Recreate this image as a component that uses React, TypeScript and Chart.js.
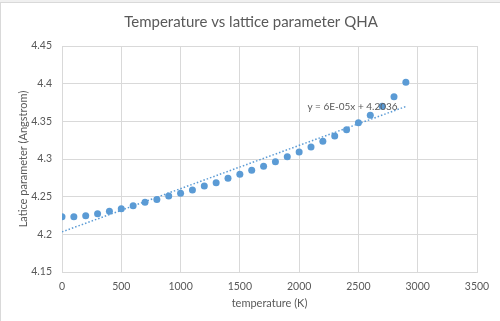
import { useEffect, useRef } from "react";
import { Chart, registerables } from "chart.js";

Chart.register(...registerables);

const chartTitle = "Temperature vs lattice parameter QHA";
const xAxisTitle = "temperature (K)";
const yAxisTitle = "Latice parameter (Angstrom)";
const trendLabel = "y = 6E-05x + 4.2036";

const temperatures = [
  0, 100, 200, 300, 400, 500, 600, 700, 800, 900, 1000, 1100, 1200, 1300, 1400,
  1500, 1600, 1700, 1800, 1900, 2000, 2100, 2200, 2300, 2400, 2500, 2600, 2700,
  2800, 2900,
];
const latticeParams = [
  4.2234, 4.2234, 4.2247, 4.2274, 4.2305, 4.234, 4.238, 4.2425, 4.2464, 4.2508,
  4.2544, 4.2588, 4.264, 4.2685, 4.2743, 4.2797, 4.2852, 4.2903, 4.2964, 4.303,
  4.3093, 4.316, 4.3235, 4.3305, 4.3389, 4.3482, 4.358, 4.37, 4.3827, 4.4018,
];
const xTicks = [0, 500, 1000, 1500, 2000, 2500, 3000, 3500];
const yTicks = [4.15, 4.2, 4.25, 4.3, 4.35, 4.4, 4.45];

const FONT = "Lato";
const TEXT = "#595959";
const BLUE = "#5b9bd5";
const GRID = "#d9d9d9";

function linearFit(xs: number[], ys: number[]) {
  const n = xs.length;
  const mx = xs.reduce((a, b) => a + b, 0) / n;
  const my = ys.reduce((a, b) => a + b, 0) / n;
  let sxy = 0;
  let sxx = 0;
  for (let i = 0; i < n; i++) {
    sxy += (xs[i] - mx) * (ys[i] - my);
    sxx += (xs[i] - mx) * (xs[i] - mx);
  }
  const slope = sxy / sxx;
  return { slope, intercept: my - slope * mx };
}

export default function App() {
  const ref = useRef<HTMLCanvasElement | null>(null);

  useEffect(() => {
    if (!ref.current) return;
    const fit = linearFit(temperatures, latticeParams);
    const tFirst = temperatures[0];
    const tLast = temperatures[temperatures.length - 1];

    const framePlugin = {
      id: "frame",
      beforeDraw(chart: any) {
        const { ctx } = chart;
        ctx.save();
        ctx.fillStyle = "#f0f0f0";
        ctx.fillRect(0, 0, 500, 2);
        ctx.strokeStyle = "#d9d9d9";
        ctx.lineWidth = 1;
        ctx.beginPath();
        ctx.moveTo(0, 2.5);
        ctx.lineTo(500, 2.5);
        ctx.moveTo(0.5, 2);
        ctx.lineTo(0.5, 321);
        ctx.stroke();
        ctx.restore();
      },
    };

    const textPlugin = {
      id: "texts",
      afterDraw(chart: any) {
        const { ctx, chartArea, scales } = chart;
        ctx.save();
        ctx.fillStyle = TEXT;
        ctx.textAlign = "center";
        ctx.textBaseline = "middle";
        ctx.font = `15px ${FONT}`;
        ctx.fillText(chartTitle, 251, 22);
        ctx.font = `11px ${FONT}`;
        ctx.fillText(xAxisTitle, (chartArea.left + chartArea.right) / 2, 303);
        ctx.save();
        ctx.translate(23, (chartArea.top + chartArea.bottom) / 2);
        ctx.rotate(-Math.PI / 2);
        ctx.fillText(yAxisTitle, 0, 0);
        ctx.restore();
        ctx.font = `10px ${FONT}`;
        const lx = scales.x.getPixelForValue(2450);
        const ly = scales.y.getPixelForValue(4.37);
        ctx.fillText(trendLabel, lx, ly + 1);
        ctx.restore();
      },
    };

    const chart = new Chart(ref.current, {
      type: "scatter",
      data: {
        datasets: [
          {
            label: "data",
            data: temperatures.map((t, i) => ({ x: t, y: latticeParams[i] })),
            backgroundColor: BLUE,
            borderColor: BLUE,
            pointRadius: 3.5,
            pointBorderWidth: 0,
          },
          {
            label: "trend",
            type: "line",
            data: [
              { x: tFirst, y: fit.intercept + fit.slope * tFirst },
              { x: tLast, y: fit.intercept + fit.slope * tLast },
            ],
            borderColor: BLUE,
            borderWidth: 1.5,
            borderDash: [1.5, 2],
            pointRadius: 0,
            fill: false,
          },
        ],
      },
      options: {
        animation: false,
        responsive: false,
        devicePixelRatio: 1,
        layout: { padding: { top: 46, right: 23, left: 0, bottom: 0 } },
        plugins: {
          legend: { display: false },
          tooltip: { enabled: false },
          title: { display: false },
        },
        scales: {
          x: {
            type: "linear",
            min: 0,
            max: 3500,
            afterBuildTicks: (s: any) => {
              s.ticks = xTicks.map((v) => ({ value: v }));
            },
            afterFit: (s: any) => {
              s.height = 49;
            },
            grid: { color: GRID, drawTicks: false },
            border: { color: GRID },
            ticks: {
              color: TEXT,
              font: { family: FONT, size: 10.5 },
              padding: 8,
              maxRotation: 0,
              callback: (v: any) => String(v),
            },
          },
          y: {
            type: "linear",
            min: 4.15,
            max: 4.45,
            afterBuildTicks: (s: any) => {
              s.ticks = yTicks.map((v) => ({ value: v }));
            },
            afterFit: (s: any) => {
              s.width = 62;
            },
            grid: { color: GRID, drawTicks: false },
            border: { color: GRID },
            ticks: {
              color: TEXT,
              font: { family: FONT, size: 10.5 },
              padding: 10,
              callback: (v: any) => String(Number(Number(v).toFixed(2))),
            },
          },
        },
      },
      plugins: [framePlugin, textPlugin],
    } as any);
    return () => chart.destroy();
  }, []);

  return (
    <div
      style={{
        position: "fixed",
        left: 0,
        top: 0,
        width: 500,
        height: 321,
        background: "#fff",
      }}
    >
      <canvas ref={ref} width={500} height={321} style={{ display: "block" }} />
    </div>
  );
}
